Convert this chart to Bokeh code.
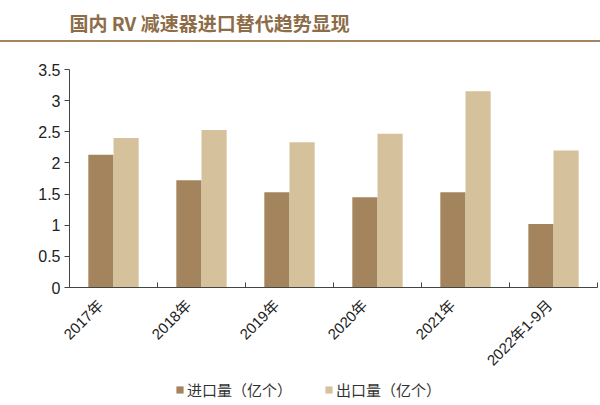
from bokeh.plotting import figure
from bokeh.models import (Range1d, FixedTicker, NumeralTickFormatter, Legend, LegendItem,
                          ColumnDataSource, Div)
from bokeh.layouts import column
from bokeh.embed import file_html
from bokeh.resources import INLINE
from bokeh.core.properties import value

title_text = "国内 RV 减速器进口替代趋势显现"
categories = ["2017年", "2018年", "2019年", "2020年", "2021年", "2022年1-9月"]
imports = [2.13, 1.72, 1.53, 1.45, 1.53, 1.02]
exports = [2.40, 2.53, 2.33, 2.47, 3.15, 2.20]
series_names = ["进口量（亿个）", "出口量（亿个）"]
y_ticks = [0, 0.5, 1, 1.5, 2, 2.5, 3, 3.5]

DARK = "#a4845c"
LIGHT = "#d5c29c"
BROWN = "#8d6c48"
RULE = "#a3845f"
FONT = "'Liberation Sans', 'Noto Sans CJK SC'"
CJK = "'Noto Sans CJK SC'"
W = 600
XFS = 15  # x label font size (px)


def bare(h):
    f = figure(width=W, height=h, x_range=Range1d(0, 1), y_range=Range1d(0, 1),
               output_backend="svg", toolbar_location=None,
               x_axis_location=None, y_axis_location=None,
               min_border=0, min_border_left=0, min_border_right=0,
               min_border_top=0, min_border_bottom=0)
    f.outline_line_color = None
    f.xgrid.visible = False
    f.ygrid.visible = False
    return f


# ---- header: title ----
head = bare(40)
head.text(x=[0], y=[0.45], text=[title_text], text_font=value(CJK),
          text_font_size="19px", text_font_style="bold", text_color=BROWN,
          text_baseline="middle", text_align="left")

# ---- header: full-width rule ----
rule = Div(text="", width=W, height=2, margin=(0, 0, 0, 0),
           styles={"background-color": RULE, "width": f"{W}px", "height": "2px"})

# ---- main chart ----
n = len(categories)
bw = 0.286
centers = [i + 0.5 for i in range(n)]
src = ColumnDataSource(dict(
    xi=[c - bw / 2 for c in centers],
    xe=[c + bw / 2 for c in centers],
    imp=imports, exp=exports))

p = figure(width=W, height=336, x_range=Range1d(0, n), y_range=Range1d(0, 3.5),
           output_backend="svg", toolbar_location=None,
           min_border_left=69, min_border_right=3, min_border_top=27,
           min_border_bottom=91)
p.outline_line_color = None
p.xgrid.visible = False
p.ygrid.visible = False

p.vbar(x="xi", top="imp", width=bw, source=src, fill_color=DARK, line_color=None)
p.vbar(x="xe", top="exp", width=bw, source=src, fill_color=LIGHT, line_color=None)

# y axis
ya = p.yaxis[0]
ya.ticker = FixedTicker(ticks=y_ticks)
ya.formatter = NumeralTickFormatter(format="0.[0]")
ya.major_label_text_font = FONT
ya.major_label_text_font_size = "16px"
ya.major_label_text_color = "#222222"
ya.axis_line_color = "#444444"
ya.major_tick_line_color = "#444444"
ya.major_tick_out = 5
ya.major_tick_in = 0
ya.minor_tick_line_color = None
ya.major_label_standoff = 4


# x axis: rotated labels end at the category centre, ticks at boundaries
def est_width(s, fs):
    return sum(fs if ord(ch) > 255 else (0.33 * fs if ch == "-" else 0.556 * fs) for ch in s)


px_per_cat = (W - 69 - 3) / n


def label_shift(s):
    proj = (est_width(s, XFS) + XFS) * 0.707
    right_rel = 31.6 * XFS / 16 - 0.347 * proj
    return (1 - right_rel) / px_per_cat


label_pos = [c + label_shift(lab) for c, lab in zip(centers, categories)]
xa = p.xaxis[0]
xa.ticker = FixedTicker(ticks=label_pos, minor_ticks=list(range(n + 1)))
xa.major_label_overrides = {c: lab for c, lab in zip(label_pos, categories)}
xa.major_label_orientation = 0.785398
xa.major_label_text_font = FONT
xa.major_label_text_font_size = f"{XFS}px"
xa.major_label_text_color = "#222222"
xa.major_tick_line_color = None
xa.major_tick_in = 0
xa.major_tick_out = 0
xa.minor_tick_line_color = "#444444"
xa.minor_tick_in = 5
xa.minor_tick_out = 0
xa.axis_line_color = "#444444"
xa.major_label_standoff = 15

# ---- legend strip ----
lf = bare(27)
k1 = lf.vbar(x=[0.5], top=[0], bottom=[0], width=0, fill_color=DARK, line_color=None)
k2 = lf.vbar(x=[0.5], top=[0], bottom=[0], width=0, fill_color=LIGHT, line_color=None)
legend = Legend(items=[LegendItem(label=series_names[0], renderers=[k1]),
                       LegendItem(label=series_names[1], renderers=[k2])],
                orientation="horizontal", location=(106, 5),
                label_text_font=CJK, label_text_font_size="15px",
                label_text_color="#333333", glyph_width=9, glyph_height=9,
                label_standoff=3, spacing=32, padding=0, margin=0,
                border_line_color=None, background_fill_alpha=0)
lf.add_layout(legend, "center")

layout = column(head, rule, p, lf, spacing=0)
open("out.html", "w").write(file_html(layout, INLINE))
